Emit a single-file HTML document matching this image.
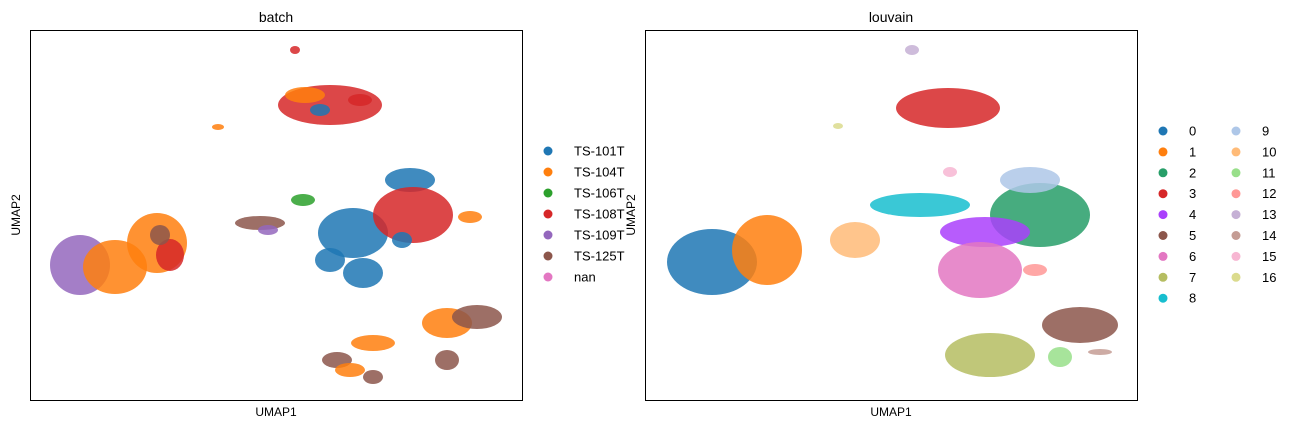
<!DOCTYPE html>
<html><head><meta charset="utf-8"><style>
body{margin:0;background:#fff;width:1298px;height:429px;overflow:hidden;font-family:"Liberation Sans",sans-serif}
svg text{font-family:"Liberation Sans",sans-serif;fill:#000}
</style></head><body>
<svg id="c" width="1298" height="429"></svg>
<script>
// embedding units: umap1 0..492, umap2 0..370 (top-down)
const batchNames=["TS-101T","TS-104T","TS-106T","TS-108T","TS-109T","TS-125T","nan"];
const batchColors=["#1f77b4","#ff7f0e","#2ca02c","#d62728","#9467bd","#8c564b","#e377c2"];
const batchBlobBatch=[4,1,1,3,3,1,0,0,0,0,3,0,1,5,4,2,1,5,1,5,1,5,5,1,3,5,0,3];
const batchBlobX=[50,85,127,140,300,275,323,333,300,380,383,372,440,230,238,273,417,447,343,307,320,343,417,188,265,130,290,330];
const batchBlobY=[235,237,213,225,75,65,203,243,230,150,185,210,187,193,200,170,293,287,313,330,340,347,330,97,20,205,80,70];
const batchBlobRx=[30,32,30,14,52,20,35,20,15,25,40,10,12,25,10,12,25,25,22,15,15,10,12,6,5,10,10,12];
const batchBlobRy=[30,27,30,16,20,8,25,15,12,12,28,8,6,7,5,6,15,12,8,8,7,7,10,3,4,10,6,6];
const louvainNames=["0","1","2","3","4","5","6","7","8","9","10","11","12","13","14","15","16"];
const louvainColors=["#1f77b4","#ff7f0e","#279e68","#d62728","#aa40fc","#8c564b","#e377c2","#b5bd61","#17becf","#aec7e8","#ffbb78","#98df8a","#ff9896","#c5b0d5","#c49c94","#f7b6d2","#dbdb8d"];
const louvainX=[67,122,395,303,340,435,335,345,275,385,210,415,390,267,455,305,193];
const louvainY=[232,220,185,78,202,295,240,325,175,150,210,327,240,20,322,142,96];
const louvainRx=[45,35,50,52,45,38,42,45,50,30,25,12,12,7,12,7,5];
const louvainRy=[33,35,32,20,15,18,28,22,12,13,18,10,6,5,3,5,3];

const NS="http://www.w3.org/2000/svg";
const svg=document.getElementById('c');
function mk(t,a,p){const e=document.createElementNS(NS,t);for(const k in a)e.setAttribute(k,a[k]);(p||svg).appendChild(e);return e;}
function sx(panelLeft,v){return panelLeft+v*(492/492);}
function sy(v){return 30+v*(370/370);}
function panel(left,title,bb,bx,by,brx,bry,cols,name){
  const g=mk('g',{});
  
  
  for(let i=0;i<bx.length;i++){
    const e=mk('ellipse',{cx:sx(left,bx[i]),cy:sy(by[i]),rx:brx[i],ry:bry[i],fill:cols[bb?bb[i]:i],opacity:0.85},g);
    
    
  }
  const r=mk('rect',{x:left+0.5,y:30.5,width:492,height:370,fill:'none',stroke:'#000','stroke-width':1},g);
  
  
  const t=mk('text',{x:left+246,y:22,'text-anchor':'middle','font-size':14},g);t.textContent=title;
  
  
  const xl=mk('text',{x:left+246,y:416,'text-anchor':'middle','font-size':12},g);xl.textContent='UMAP1';
  
  
  const yl=mk('text',{x:0,y:0,'text-anchor':'middle','font-size':12,transform:`translate(${left-10},215) rotate(-90)`},g);yl.textContent='UMAP2';
  
  
}
panel(30,'batch',batchBlobBatch,batchBlobX,batchBlobY,batchBlobRx,batchBlobRy,batchColors,'batch');
panel(645,'louvain',null,louvainX,louvainY,louvainRx,louvainRy,louvainColors,'louvain');
function legendEntry(mx,y,col,label){
  const c=mk('circle',{cx:mx,cy:y,r:4.5,fill:col});
  
  
  const t=mk('text',{x:mx+26,y:y+4.5,'font-size':13});t.textContent=label;
  
  
}
batchNames.forEach((n,i)=>legendEntry(548,151+i*21,batchColors[i],n));
louvainNames.forEach((n,i)=>{const col=i<9?0:1,row=i<9?i:i-9;legendEntry(col?1236:1163,131+row*20.9,louvainColors[i],n);});
</script>
</body></html>
